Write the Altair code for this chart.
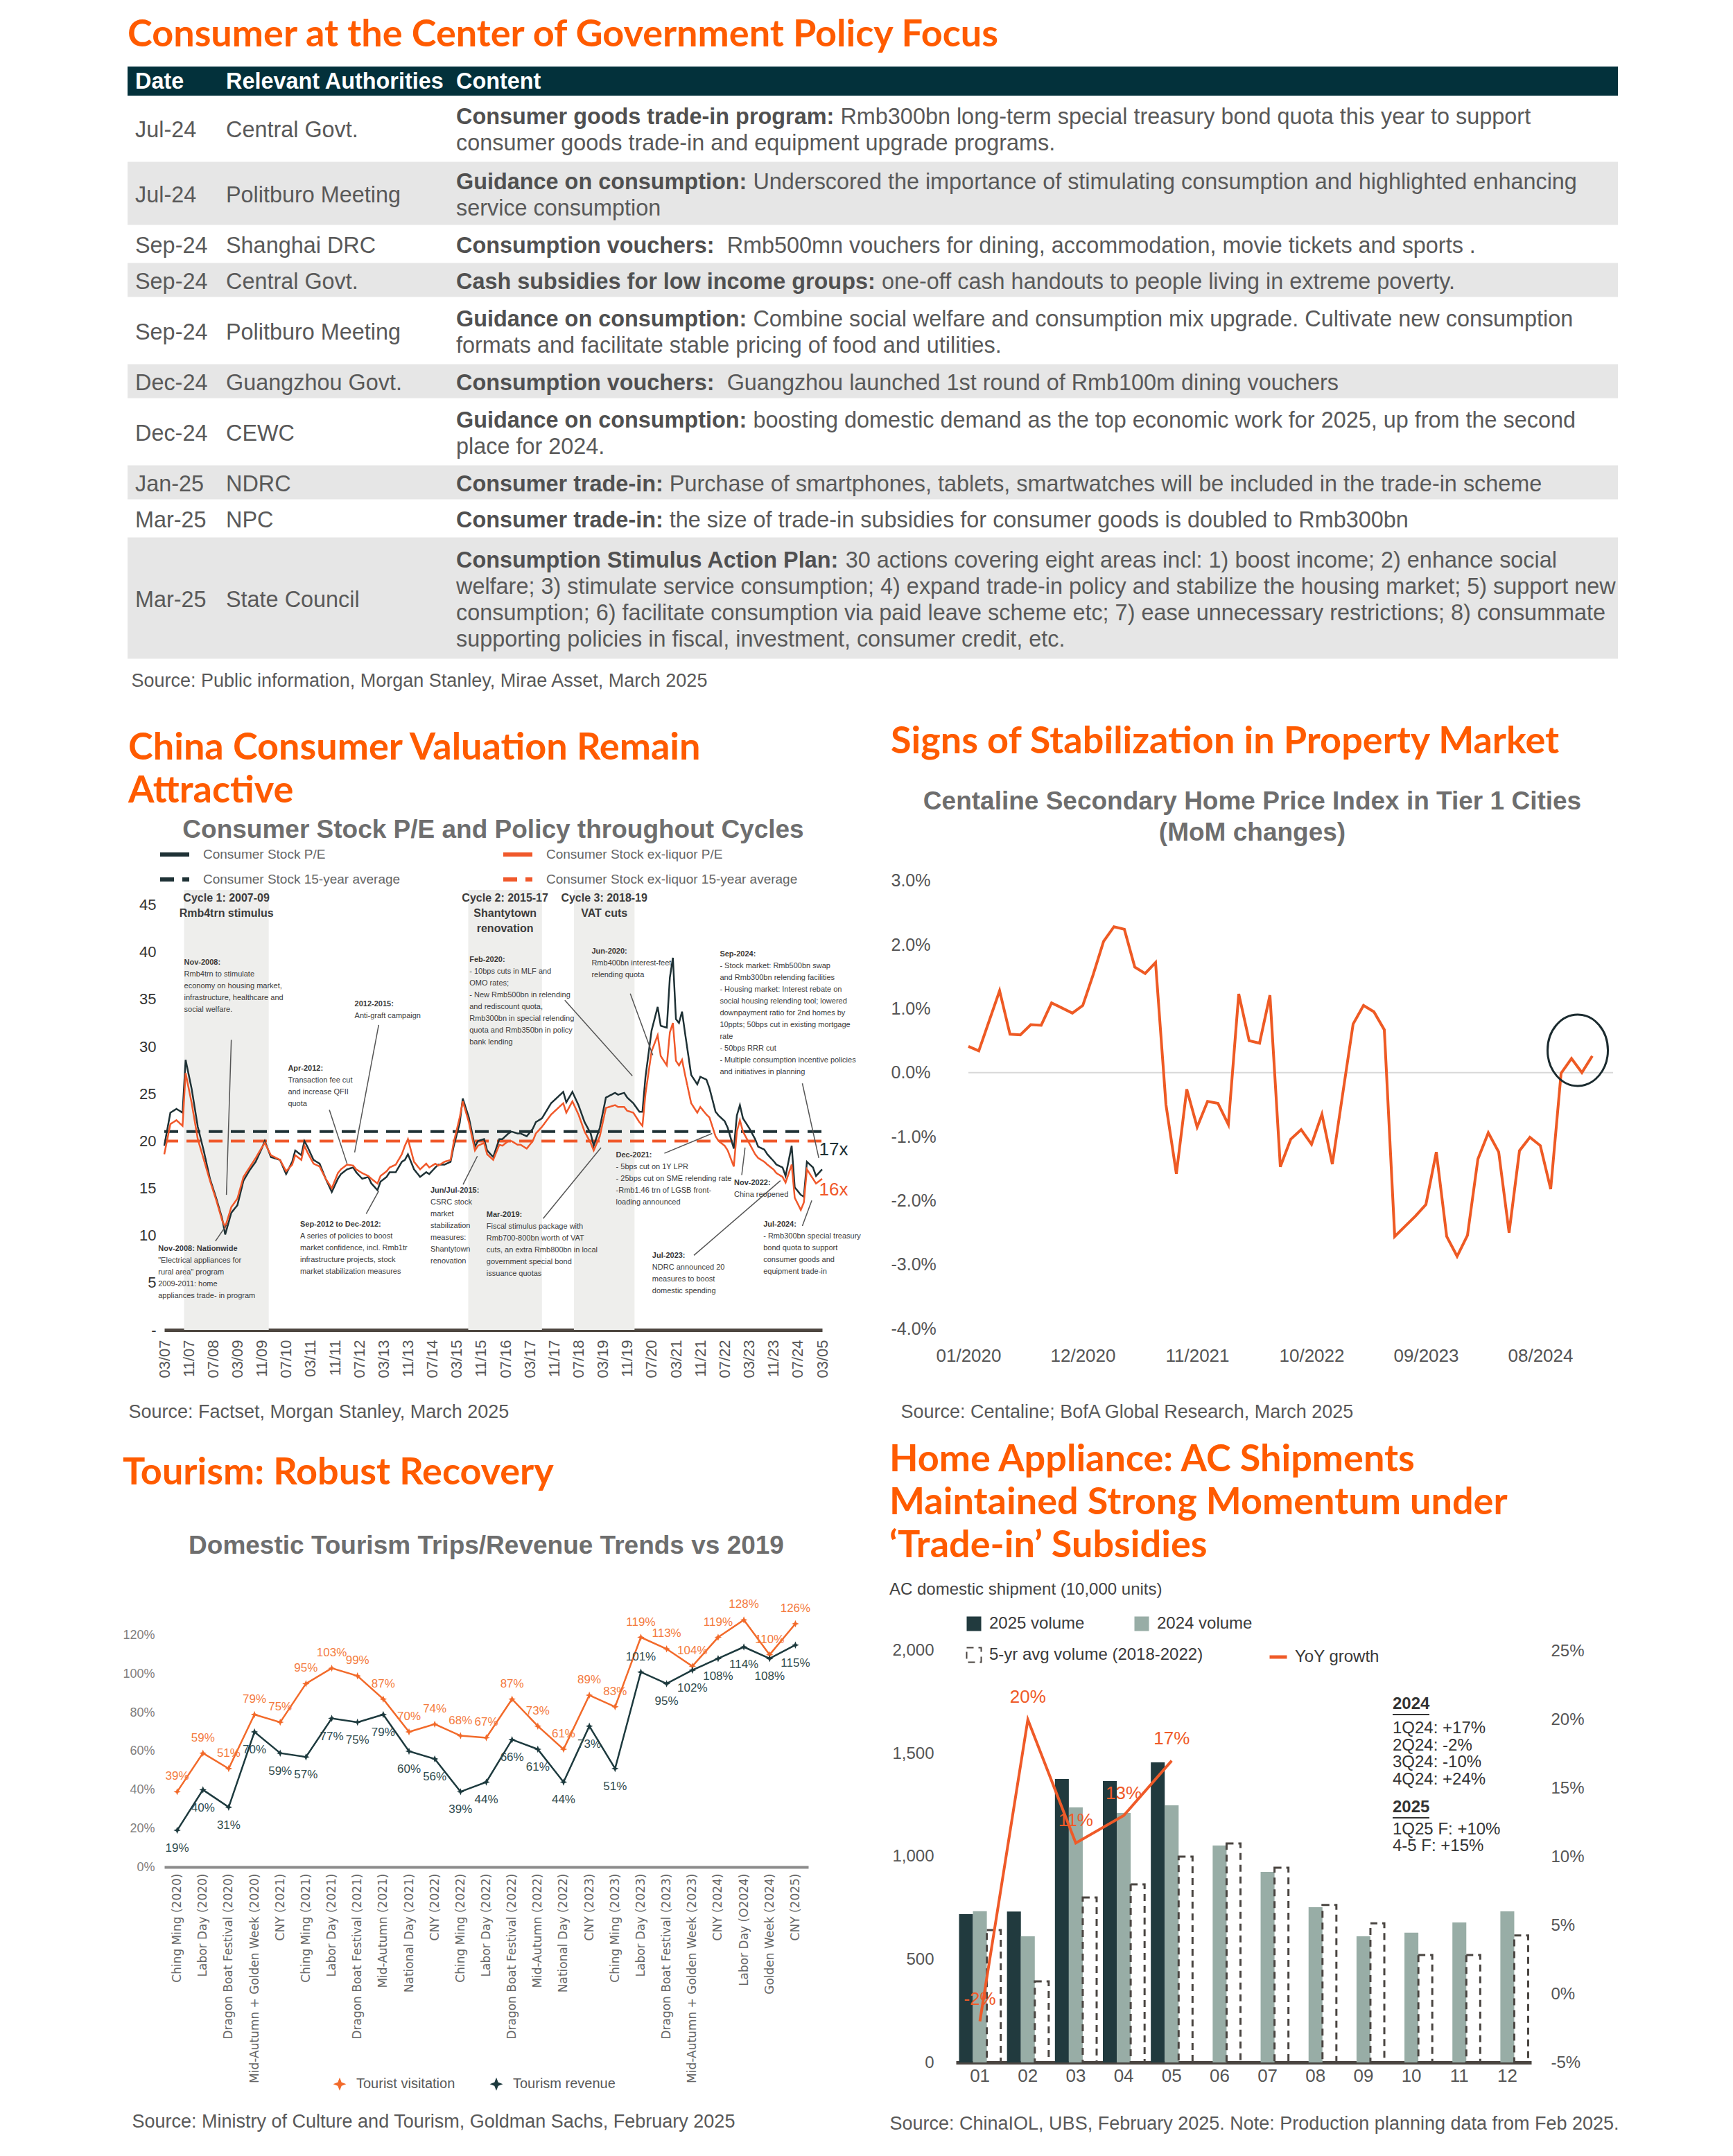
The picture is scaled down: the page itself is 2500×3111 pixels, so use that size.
import altair as alt
import pandas as pd

# ---------------------------------------------------------------- colours / fonts
ORANGE = "#FF5B00"
TEAL = "#03313B"
ROWGREY = "#E6E6E6"
TXT = "#595959"
SUB = "#6E6E6E"
DARK = "#1E3135"
ORG = "#F0582A"
SANS = "Liberation Sans"
HEAD = "Lato"
HEAD_FS = 54
SUB_FS = 37

# ================================================================ DATA
# ---- policy table
tbl_dates = ["Jul-24", "Jul-24", "Sep-24", "Sep-24", "Sep-24", "Dec-24", "Dec-24", "Jan-25", "Mar-25", "Mar-25"]
tbl_auth = ["Central Govt.", "Politburo Meeting", "Shanghai DRC", "Central Govt.", "Politburo Meeting",
            "Guangzhou Govt.", "CEWC", "NDRC", "NPC", "State Council"]
tbl_bold = ["Consumer goods trade-in program:", "Guidance on consumption:", "Consumption vouchers:",
            "Cash subsidies for low income groups:", "Guidance on consumption:", "Consumption vouchers:",
            "Guidance on consumption:", "Consumer trade-in:", "Consumer trade-in:", "Consumption Stimulus Action Plan:"]
tbl_text = [
    [" Rmb300bn long-term special treasury bond quota this year to support",
     "consumer goods trade-in and equipment upgrade programs."],
    [" Underscored the importance of stimulating consumption and highlighted enhancing",
     "service consumption"],
    ["  Rmb500mn vouchers for dining, accommodation, movie tickets and sports ."],
    [" one-off cash handouts to people living in extreme poverty."],
    [" Combine social welfare and consumption mix upgrade. Cultivate new consumption",
     "formats and facilitate stable pricing of food and utilities."],
    ["  Guangzhou launched 1st round of Rmb100m dining vouchers"],
    [" boosting domestic demand as the top economic work for 2025, up from the second",
     "place for 2024."],
    [" Purchase of smartphones, tablets, smartwatches will be included in the trade-in scheme"],
    [" the size of trade-in subsidies for consumer goods is doubled to Rmb300bn"],
    [" 30 actions covering eight areas incl: 1) boost income; 2) enhance social",
     "welfare; 3) stimulate service consumption; 4) expand trade-in policy and stabilize the housing market; 5) support new",
     "consumption; 6) facilitate consumption via paid leave scheme etc; 7) ease unnecessary restrictions; 8) consummate",
     "supporting policies in fiscal, investment, consumer credit, etc."],
]
tbl_header = ["Date", "Relevant Authorities", "Content"]
tbl_source = "Source: Public information, Morgan Stanley, Mirae Asset, March 2025"

# ---- consumer stock P/E (month index from Mar-2007)
pe_month = [0, 2, 4, 6, 7, 9, 11, 13, 15, 17, 19, 20, 22, 24, 26, 28, 30, 32, 33, 35,
            38, 40, 42, 43, 45, 46, 47, 49, 51, 53, 55, 57, 58, 60, 62, 63, 65, 67, 68, 70,
            71, 73, 74, 76, 78, 79, 80, 82, 84, 86, 87, 89, 90, 92, 94, 95, 97, 98, 100, 102,
            103, 105, 106, 108, 110, 111, 113, 114, 116, 117, 119, 121, 122, 124, 127, 129, 131, 132, 134, 136,
            138, 140, 141, 143, 145, 148, 149, 151, 152, 154, 156, 157, 158, 160, 162, 163, 165, 166, 167, 168,
            169, 170, 171, 173, 175, 176, 178, 179, 181, 182, 184, 185, 187, 188, 189, 190, 192, 194, 195, 197,
            198, 200, 201, 203, 204, 206, 207, 209, 210, 211, 213, 214, 216]
pe_all = [19.5, 23.0, 23.4, 23.0, 28.6, 25.5, 21.5, 18.9, 16.0, 14.0, 11.8, 10.1, 12.4, 13.2, 15.8, 16.9, 17.8, 19.2, 20.0, 18.3,
          18.0, 16.5, 17.8, 19.0, 18.5, 20.0, 19.4, 18.0, 17.6, 16.0, 14.6, 16.0, 16.5, 17.0, 17.2, 16.7, 16.0, 16.2, 15.5, 14.8,
          15.7, 16.2, 16.7, 16.7, 17.8, 18.0, 18.6, 17.0, 16.2, 16.7, 16.5, 17.2, 17.5, 17.5, 17.8, 19.4, 21.9, 24.5, 22.5, 19.4,
          20.0, 20.2, 19.0, 18.3, 20.2, 20.2, 20.8, 21.0, 20.8, 20.8, 20.5, 21.3, 22.0, 22.4, 24.0, 24.6, 25.2, 24.1, 25.2, 23.8,
          22.0, 20.8, 19.5, 21.4, 24.6, 25.1, 24.9, 25.1, 24.6, 24.0, 23.1, 23.1, 26.8, 31.7, 34.2, 32.2, 32.0, 37.3, 39.4, 32.9,
          32.5, 33.7, 31.4, 27.0, 26.0, 26.8, 26.5, 25.6, 23.1, 22.7, 22.1, 21.4, 19.2, 22.7, 23.8, 22.4, 21.4, 20.2, 19.4, 19.1,
          18.6, 17.9, 17.5, 17.2, 16.3, 19.5, 15.1, 14.3, 14.1, 17.8, 17.2, 16.3, 17.0]
pe_exl = [18.6, 21.8, 22.2, 21.6, 27.2, 24.0, 20.2, 18.0, 15.8, 13.8, 11.6, 10.9, 13.0, 13.9, 16.2, 17.2, 18.2, 19.3, 19.8, 18.5,
          18.0, 16.8, 17.5, 18.5, 18.0, 19.5, 18.8, 17.6, 17.3, 16.0, 15.0, 16.6, 17.0, 17.5, 17.4, 17.0, 16.6, 16.3, 16.0, 15.5,
          16.3, 16.8, 17.2, 17.5, 18.6, 19.5, 20.2, 17.8, 17.0, 17.6, 17.2, 17.6, 17.4, 17.8, 18.0, 19.8, 22.5, 24.2, 22.0, 19.0,
          19.5, 19.8, 18.6, 18.0, 19.6, 19.5, 20.0, 20.0, 19.6, 19.6, 19.2, 20.0, 20.8, 21.5, 22.8, 23.4, 24.0, 23.0, 24.2, 22.8,
          21.0, 19.8, 19.0, 20.5, 23.5, 23.8, 23.6, 23.6, 23.2, 23.0, 22.0, 21.6, 25.0, 29.5, 31.2, 29.0, 28.0, 31.5, 32.5, 28.5,
          28.0, 28.6, 27.0, 24.0, 23.0, 23.6, 22.8, 22.5, 20.5, 20.0, 19.5, 19.0, 17.3, 21.0, 22.2, 21.0, 19.8, 18.6, 18.2, 17.8,
          17.5, 17.0, 16.6, 16.2, 15.6, 17.5, 14.0, 12.7, 13.5, 17.0, 16.0, 15.5, 16.0]
pe_series = ["Consumer Stock P/E", "Consumer Stock 15-year average",
             "Consumer Stock ex-liquor P/E", "Consumer Stock ex-liquor 15-year average"]
pe_avg = [21.0, 20.0]
pe_ticks = ["03/07", "11/07", "07/08", "03/09", "11/09", "07/10", "03/11", "11/11", "07/12", "03/13", "11/13", "07/14",
            "03/15", "11/15", "07/16", "03/17", "11/17", "07/18", "03/19", "11/19", "07/20", "03/21", "11/21", "07/22",
            "03/23", "11/23", "07/24", "03/05"]
cycle_start = [6.5, 99.8, 134.5]
cycle_end = [34.3, 124.0, 154.4]
cycle_text = ["Cycle 1: 2007-09\nRmb4trn stimulus", "Cycle 2: 2015-17\nShantytown\nrenovation", "Cycle 3: 2018-19\nVAT cuts"]
NB = "\u00a0\u00a0"
pe_notes = [
    # header, body, anchor (month, value), arrow from, arrow to
    ("Nov-2008:", "Rmb4trn to stimulate\neconomy on housing market,\ninfrastructure, healthcare and\nsocial welfare.",
     6.5, 39.3, (22.0, 30.7), (20.4, 14.3)),
    ("2012-2015:", "Anti-graft campaign", 62.5, 34.9, (70.4, 32.3), (62.5, 18.8)),
    ("Apr-2012:", "Transaction fee cut\nand increase QFII\nquota", 40.6, 28.1, (54.2, 23.3), (60.0, 17.6)),
    ("Feb-2020:", "- 10bps cuts in MLF and\n" + NB + "OMO  rates;\n- New Rmb500bn in relending\n" + NB +
     "and rediscount quota,\n" + NB + "Rmb300bn in special relending\n" + NB + "quota and Rmb350bn in policy\n" + NB + "bank lending",
     100.2, 39.6, (131.5, 34.9), (153.7, 26.9)),
    ("Jun-2020:", "Rmb400bn interest-feet\nrelending quota", 140.3, 40.5, (153.0, 35.6), (160.4, 29.1)),
    ("Sep-2024:", "- Stock market: Rmb500bn swap\n" + NB + "and Rmb300bn relending facilities\n- Housing market: Interest rebate on\n" + NB +
     "social housing relending tool; lowered\n" + NB + "downpayment ratio for 2nd homes by\n" + NB +
     "10ppts; 50bps cut in existing mortgage\n" + NB + "rate\n- 50bps RRR cut\n- Multiple consumption incentive policies\n" + NB +
     "and initiatives in planning", 182.4, 40.2, (209.5, 26.1), (214.9, 18.2)),
    ("Nov-2008: Nationwide", "\"Electrical appliances for\nrural area\" program\n2009-2011: home\nappliances trade- in program",
     -2.0, 9.0, (16.8, 9.4), (20.4, 11.1)),
    ("Sep-2012 to Dec-2012:", "A series of policies to boost\nmarket confidence, incl. Rmb1tr\ninfrastructure projects, stock\nmarket stabilization measures",
     44.6, 11.6, (66.3, 12.3), (70.4, 14.7)),
    ("Jun/Jul-2015:", "CSRC stock\nmarket\nstabilization\nmeasures:\nShantytown\nrenovation", 87.4, 15.2, (98.1, 15.4), (102.8, 18.4)),
    ("Mar-2019:", "Fiscal stimulus package with\nRmb700-800bn worth of VAT\ncuts, an extra Rmb800bn in local\ngovernment special bond\nissuance quotas",
     105.8, 12.6, (124.4, 11.8), (143.4, 19.3)),
    ("Dec-2021:", "- 5bps cut on 1Y LPR\n- 25bps cut on SME relending rate\n-Rmb1.46 trn of LGSB front-\n" + NB + "loading announced",
     148.3, 18.9, (164.2, 18.7), (179.9, 20.8)),
    ("Nov-2022:", "China reopened", 187.1, 16.0, (189.6, 16.4), (190.7, 19.3)),
    ("Jul-2023:", "NDRC announced 20\nmeasures to boost\ndomestic spending", 160.2, 8.3, (173.9, 7.9), (202.3, 15.8)),
    ("Jul-2024:", "- Rmb300bn special treasury\n" + NB + "bond quota to support\n" + NB + "consumer goods and\n" + NB + "equipment trade-in",
     196.7, 11.6, (209.5, 11.0), (212.6, 13.7)),
]
pe_end_labels = ["17x", "16x"]
pe_source = "Source: Factset, Morgan Stanley, March 2025"

# ---- Centaline MoM (month index from Jan-2020), %
prop_month = [0, 1, 3, 4, 5, 6, 7, 8, 10, 11, 12, 13, 14, 15, 16, 17, 18, 19, 20, 21,
              22, 23, 24, 25, 26, 27, 28, 29, 30, 31, 32, 33, 34, 35, 36, 37, 38, 39, 40, 41,
              42, 43, 44, 45, 46, 47, 48, 49, 50, 51, 52, 53, 54, 55, 56, 57, 58, 59, 60]
prop_val = [0.41, 0.34, 1.28, 0.60, 0.59, 0.75, 0.74, 1.09, 0.93, 1.05, 1.53, 2.05, 2.28, 2.24, 1.65, 1.55, 1.72, -0.50, -1.58, -0.26,
            -0.85, -0.45, -0.48, -0.81, 1.23, 0.50, 0.46, 1.21, -1.47, -1.04, -0.89, -1.12, -0.65, -1.43, -0.33, 0.76, 1.05, 0.95, 0.67, -2.56,
            -2.40, -2.24, -2.06, -1.24, -2.56, -2.87, -2.54, -1.35, -0.94, -1.24, -2.50, -1.22, -1.01, -1.14, -1.82, -0.01, 0.22, 0.00, 0.26]
prop_ticks = ["01/2020", "12/2020", "11/2021", "10/2022", "09/2023", "08/2024"]
prop_source = "Source: Centaline; BofA Global Research, March 2025"

# ---- tourism vs 2019 (%)
tour_cat = ["Ching Ming (2020)", "Labor Day (2020)", "Dragon Boat Festival (2020)", "Mid-Autumn + Golden Week (2020)",
            "CNY (2021)", "Ching Ming (2021)", "Labor Day (2021)", "Dragon Boat Festival (2021)", "Mid-Autumn (2021)",
            "National Day (2021)", "CNY (2022)", "Ching Ming (2022)", "Labor Day (2022)", "Dragon Boat Festival (2022)",
            "Mid-Autumn (2022)", "National Day (2022)", "CNY (2023)", "Ching Ming (2023)", "Labor Day (2023)",
            "Dragon Boat Festival (2023)", "Mid-Autumn + Golden Week (2023)", "CNY (2024)", "Labor Day (O2024)",
            "Golden Week (2024)", "CNY (2025)"]
tour_visit = [39, 59, 51, 79, 75, 95, 103, 99, 87, 70, 74, 68, 67, 87, 73, 61, 89, 83, 119, 113, 104, 119, 128, 110, 126]
tour_rev = [19, 40, 31, 70, 59, 57, 77, 75, 79, 60, 56, 39, 44, 66, 61, 44, 73, 51, 101, 95, 102, 108, 114, 108, 115]
tour_series = ["Tourist visitation", "Tourism revenue"]
tour_rev_label_above = [18]
tour_source = "Source: Ministry of Culture and Tourism, Goldman Sachs, February 2025"

# ---- AC shipments (10,000 units) and YoY (%)
ac_months = ["01", "02", "03", "04", "05", "06", "07", "08", "09", "10", "11", "12"]
ac_2025 = [720, 733, 1377, 1367, 1458]
ac_2024 = [735, 613, 1239, 1212, 1249, 1054, 926, 754, 613, 630, 680, 734]
ac_avg = [643, 394, 801, 865, 1000, 1064, 946, 765, 676, 522, 522, 617]
ac_yoy = [-2, 20, 11, 13, 17]
ac_series = ["2025 volume", "2024 volume", "5-yr avg volume (2018-2022)"]
ac_yoy_name = "YoY growth"
ac_note_2024 = "1Q24: +17%\n2Q24: -2%\n3Q24: -10%\n4Q24: +24%"
ac_note_2025 = "1Q25 F: +10%\n4-5 F: +15%"
ac_source = "Source: ChinaIOL, UBS, February 2025. Note: Production planning data from Feb 2025."

# ================================================================ helpers
_R = dict(zip(" !\"#$%&'()*+,-./", [278, 278, 355, 556, 556, 889, 667, 191, 333, 333, 389, 584, 278, 333, 278, 278]))
_R.update({d: 556 for d in "0123456789"})
_R.update(dict(zip(":;<=>?@", [278, 278, 584, 584, 584, 556, 1015])))
_R.update(dict(zip("ABCDEFGHIJKLMNOPQRSTUVWXYZ", [667, 667, 722, 722, 667, 611, 778, 722, 278, 500, 667, 556, 833, 722, 778, 667, 778, 722, 667, 611, 722, 667, 944, 667, 667, 611])))
_R.update(dict(zip("abcdefghijklmnopqrstuvwxyz", [556, 556, 500, 556, 556, 278, 556, 556, 222, 222, 500, 222, 833, 556, 556, 556, 556, 333, 500, 278, 556, 500, 722, 500, 500, 500])))
_B = dict(zip(" !\"#$%&'()*+,-./", [278, 333, 474, 556, 556, 889, 722, 238, 333, 333, 389, 584, 278, 333, 278, 278]))
_B.update({d: 556 for d in "0123456789"})
_B.update(dict(zip(":;<=>?@", [333, 333, 584, 584, 584, 611, 975])))
_B.update(dict(zip("ABCDEFGHIJKLMNOPQRSTUVWXYZ", [722, 722, 722, 722, 667, 611, 778, 722, 278, 556, 722, 611, 833, 722, 778, 667, 778, 722, 667, 611, 722, 667, 944, 667, 667, 611])))
_B.update(dict(zip("abcdefghijklmnopqrstuvwxyz", [556, 611, 556, 611, 556, 333, 611, 611, 278, 278, 556, 278, 889, 611, 611, 611, 611, 389, 556, 333, 611, 556, 778, 556, 556, 500])))


def text_w(s, table, size):
    return sum(table.get(c, 556) for c in s) * size / 1000.0


def sec_title(text, offset=12):
    return alt.TitleParams(text=text, anchor="start", font=HEAD, fontSize=HEAD_FS, fontWeight="bold", color=ORANGE,
                           lineHeight=62, offset=offset, frame="bounds")


def src_axis(title, tx, ty, **kw):
    return alt.Axis(title=title, titleAnchor="start", titleAlign="left", titleX=tx, titleY=ty,
                    titleBaseline="middle", titleFontSize=27, titleFontWeight="normal", titleColor=TXT,
                    titleFont=SANS, grid=False, ticks=False, **kw)


INDEP = dict(color="independent", strokeDash="independent", fill="independent", stroke="independent")

# ================================================================ 1. policy table
W_T = 2150
OFF_T = 53          # the table starts left of the shared column origin
HDR_H = 42
LINE_H = 38
FS_T = 32.4
COL_X = [11, 142, 474]
n_lines = [len(t) for t in tbl_text]
row_h = [42 * n + 10 for n in n_lines]
tops = []
acc = HDR_H
for h in row_h:
    tops.append(acc)
    acc += h
H_T = acc

rect_rows = [{"x0": 0, "x1": W_T, "y0": 0, "y1": HDR_H, "kind": "hdr"}]
for i, (t, h) in enumerate(zip(tops, row_h)):
    if i % 2 == 1:
        rect_rows.append({"x0": 0, "x1": W_T, "y0": t + 1.5, "y1": t + h - 1.5, "kind": "grey"})
rect_df = pd.DataFrame(rect_rows)

hdr_df = pd.DataFrame({"x": COL_X, "y": [HDR_H / 2 + 1] * 3, "t": tbl_header})
cell_rows, bold_rows, rest_rows = [], [], []
for i in range(len(tbl_dates)):
    t, h, n = tops[i], row_h[i], n_lines[i]
    cell_rows.append({"x": COL_X[0], "y": t + h / 2 + 3, "t": tbl_dates[i]})
    cell_rows.append({"x": COL_X[1], "y": t + h / 2 + 3, "t": tbl_auth[i]})
    for k, line in enumerate(tbl_text[i]):
        ly = t + (h - n * LINE_H) / 2 + LINE_H / 2 + k * LINE_H + 3
        if k == 0:
            bold_rows.append({"x": COL_X[2], "y": ly, "t": tbl_bold[i]})
            lead = len(line) - len(line.lstrip(" "))
            x0 = COL_X[2] + text_w(tbl_bold[i], _B, FS_T) + text_w(" " * lead, _R, FS_T)
            rest_rows.append({"x": x0, "y": ly, "t": line.lstrip(" ")})
        else:
            rest_rows.append({"x": COL_X[2], "y": ly, "t": line})
cell_df = pd.DataFrame(cell_rows)
bold_df = pd.DataFrame(bold_rows)
rest_df = pd.DataFrame(rest_rows)

xs_t = alt.Scale(domain=[OFF_T, W_T], nice=False, zero=False)
ys_t = alt.Scale(domain=[0, H_T], reverse=True, nice=False, zero=False)
t_xaxis = src_axis(tbl_source, 5 - OFF_T, 30, labels=False, domain=False)

t_rect = alt.Chart(rect_df).mark_rect().encode(
    x=alt.X("x0:Q", scale=xs_t, axis=t_xaxis), x2="x1:Q",
    y=alt.Y("y0:Q", scale=ys_t, axis=None), y2="y1:Q",
    color=alt.Color("kind:N", scale=alt.Scale(domain=["hdr", "grey"], range=[TEAL, ROWGREY]), legend=None))


def t_text(df, **mk):
    return alt.Chart(df).mark_text(align="left", baseline="middle", font=SANS, fontSize=FS_T, **mk).encode(
        x=alt.X("x:Q", scale=xs_t, axis=t_xaxis), y=alt.Y("y:Q", scale=ys_t, axis=None), text="t:N")


table_chart = alt.layer(
    t_rect,
    t_text(hdr_df, color="white", fontWeight="bold"),
    t_text(cell_df, color=TXT),
    t_text(bold_df, color="#505050", fontWeight="bold"),
    t_text(rest_df, color=TXT),
).properties(width=W_T - OFF_T, height=H_T,
             title=alt.TitleParams("Consumer at the Center of Government Policy Focus", anchor="start", font=HEAD,
                                   fontSize=HEAD_FS, fontWeight="bold", color=ORANGE, offset=18, frame="bounds"))

# ================================================================ 2a. P/E chart
W_PE, H_PE = 949, 676
xs_pe = alt.Scale(domain=[0, 216], nice=False, zero=False)
ys_pe = alt.Scale(domain=[0, 49.6], nice=False)
col_pe = alt.Scale(domain=pe_series, range=[DARK, DARK, ORG, ORG])
dash_pe = alt.Scale(domain=pe_series, range=[[1, 0], [20, 12], [1, 0], [20, 12]])
leg_pe = alt.Legend(title=None, orient="none", legendX=-9, legendY=-34, columns=2, columnPadding=136, rowPadding=-16,
                    symbolType="stroke", symbolSize=1764, symbolStrokeWidth=6, labelFontSize=19, labelColor="#666666",
                    labelOffset=17, labelLimit=700, padding=0)

pe_df = pd.DataFrame({"m": pe_month * 2, "v": pe_all + pe_exl,
                      "series": [pe_series[0]] * len(pe_month) + [pe_series[2]] * len(pe_month)})
avg_df = pd.DataFrame({"series": [pe_series[1], pe_series[3]], "v": pe_avg, "x0": [0, 0], "x1": [216, 216]})
band_df = pd.DataFrame({"s": cycle_start, "e": cycle_end, "t": cycle_text,
                        "c": [(a + b) / 2 for a, b in zip(cycle_start, cycle_end)],
                        "lo": [0.0] * 3, "hi": [46.6] * 3})
note_df = pd.DataFrame({"head": [n[0] for n in pe_notes], "body": [n[1] for n in pe_notes],
                        "m": [n[2] for n in pe_notes], "v": [n[3] for n in pe_notes]})
arrow_df = pd.DataFrame({"m0": [n[4][0] for n in pe_notes], "v0": [n[4][1] for n in pe_notes],
                         "m1": [n[5][0] for n in pe_notes], "v1": [n[5][1] for n in pe_notes]})
end_df = pd.DataFrame({"m": [215, 215], "v": [19.1, 14.8], "t": pe_end_labels, "series": [pe_series[0], pe_series[2]]})

pe_x_axis = src_axis(pe_source, -52, 118, values=list(range(0, 217, 8)),
                     labelExpr="[" + ",".join("'%s'" % t for t in pe_ticks) + "][datum.value/8]",
                     labelAngle=270, labelFontSize=22, labelColor="#555555", labelPadding=14, labelFlush=False,
                     domainColor="#4D4640", domainWidth=5)
pe_y_axis = alt.Axis(title=None, values=list(range(0, 46, 5)), labelExpr="datum.value == 0 ? '-' : datum.label",
                     labelFontSize=22, labelColor="#333333", labelPadding=12, labelFlush=False,
                     grid=False, ticks=False, domain=False)


def px(f):
    return alt.X(f, scale=xs_pe, axis=pe_x_axis)


def py(f):
    return alt.Y(f, scale=ys_pe, axis=pe_y_axis)


pe_bands = alt.Chart(band_df).mark_rect(color="#EEEEEC").encode(
    x=px("s:Q"), x2="e:Q", y=py("lo:Q"), y2="hi:Q")
pe_band_txt = alt.Chart(band_df).mark_text(baseline="top", fontSize=16, fontWeight="bold", color="#3C3C3C",
                                           lineBreak="\n", lineHeight=22, dy=4).encode(
    x=px("c:Q"), y=py("hi:Q"), text="t:N")
pe_avg_rule = alt.Chart(avg_df).mark_rule(strokeWidth=4).encode(
    x=px("x0:Q"), x2="x1:Q", y=py("v:Q"),
    color=alt.Color("series:N", scale=col_pe, legend=leg_pe),
    strokeDash=alt.StrokeDash("series:N", scale=dash_pe, legend=leg_pe))
pe_lines = alt.Chart(pe_df).mark_line(strokeWidth=2.5).encode(
    x=px("m:Q"), y=py("v:Q"),
    color=alt.Color("series:N", scale=col_pe, legend=leg_pe),
    strokeDash=alt.StrokeDash("series:N", scale=dash_pe, legend=leg_pe))
pe_arrows = alt.Chart(arrow_df).mark_rule(color="#555555", strokeWidth=1.5).encode(
    x=px("m0:Q"), y=py("v0:Q"), x2="m1:Q", y2="v1:Q")
pe_note_head = alt.Chart(note_df).mark_text(align="left", baseline="top", fontSize=11, fontWeight="bold",
                                            color="#3A3A3A").encode(x=px("m:Q"), y=py("v:Q"), text="head:N")
pe_note_body = alt.Chart(note_df).mark_text(align="left", baseline="top", fontSize=11, color="#3A3A3A",
                                            lineBreak="\n", lineHeight=17, dy=17).encode(
    x=px("m:Q"), y=py("v:Q"), text="body:N")
pe_end = alt.Chart(end_df).mark_text(align="left", baseline="middle", fontSize=26).encode(
    x=px("m:Q"), y=py("v:Q"), text="t:N",
    color=alt.Color("series:N", scale=col_pe, legend=leg_pe))

pe_chart = alt.layer(pe_bands, pe_band_txt, pe_avg_rule, pe_lines, pe_arrows, pe_note_head, pe_note_body,
                     pe_end).properties(
    width=W_PE, height=H_PE,
    title=alt.TitleParams("Consumer Stock P/E and Policy throughout Cycles", anchor="middle", frame="group",
                          fontSize=SUB_FS, fontWeight="bold", color=SUB, font=SANS, offset=26))

# ================================================================ 2b. property chart
W_PR, H_PR = 930, 688
xs_pr = alt.Scale(domain=[0, 62], nice=False, zero=False)
ys_pr = alt.Scale(domain=[-4.15, 3.3], nice=False, zero=False)
prop_df = pd.DataFrame({"m": prop_month, "v": prop_val})
pr_x_axis = src_axis(prop_source, -98, 106, values=[0, 11, 22, 33, 44, 55],
                     labelExpr="[" + ",".join("'%s'" % t for t in prop_ticks) + "][datum.value/11]",
                     labelFontSize=26, labelColor="#555555", labelPadding=12, labelFlush=False, domain=False)
pr_y_axis = alt.Axis(title=None, values=[-4, -3, -2, -1, 0, 1, 2, 3],
                     labelExpr="(datum.value < 0 ? '-' : '') + format(abs(datum.value), '.1f') + '%'",
                     labelAlign="left", labelPadding=112, labelFontSize=25, labelColor="#555555", labelFlush=False,
                     grid=False, ticks=False, domain=False)
ELLIPSE = "M-0.845,0A0.845,1 0 1,0 0.845,0A0.845,1 0 1,0 -0.845,0Z"
zero_df = pd.DataFrame({"z": [0.0]})
pr_zero = alt.Chart(zero_df).mark_rule(color="#D9D9D9", strokeWidth=2).encode(
    y=alt.Y("z:Q", scale=ys_pr, axis=pr_y_axis))
pr_line = alt.Chart(prop_df).mark_line(color="#EE5A24", strokeWidth=4).encode(
    x=alt.X("m:Q", scale=xs_pr, axis=pr_x_axis), y=alt.Y("v:Q", scale=ys_pr, axis=pr_y_axis))
pr_circle = alt.Chart(pd.DataFrame({"m": [58.6], "v": [0.35]})).mark_point(
    shape=ELLIPSE, size=10609, filled=False, color="#1B2B2F", strokeWidth=3, opacity=1).encode(
    x=alt.X("m:Q", scale=xs_pr, axis=pr_x_axis), y=alt.Y("v:Q", scale=ys_pr, axis=pr_y_axis))
prop_chart = alt.layer(pr_zero, pr_line, pr_circle).properties(
    width=W_PR, height=H_PR,
    title=alt.TitleParams(["Centaline Secondary Home Price Index in Tier 1 Cities", "(MoM changes)"],
                          anchor="middle", frame="bounds", fontSize=SUB_FS, fontWeight="bold", color=SUB, font=SANS,
                          lineHeight=45, offset=22))

# ================================================================ 3a. tourism chart
W_TO, H_TO = 929, 376
STAR = "M0,-1L0.28,-0.28L1,0L0.28,0.28L0,1L-0.28,0.28L-1,0L-0.28,-0.28Z"
T_OR, T_DK = "#F26A2A", "#1D3A3E"
xs_to = alt.Scale(type="point", padding=0.5, domain=tour_cat)
ys_to = alt.Scale(domain=[0, 135], nice=False)
tour_df = pd.DataFrame({"cat": tour_cat * 2, "v": tour_visit + tour_rev,
                        "series": [tour_series[0]] * len(tour_cat) + [tour_series[1]] * len(tour_cat)})
tour_df["lab"] = tour_df["v"].astype(str) + "%"
lab_vis = tour_df[tour_df.series == tour_series[0]]
rev_only = tour_df[tour_df.series == tour_series[1]].reset_index(drop=True)
lab_rev_above = rev_only[rev_only.index.isin(tour_rev_label_above)]
lab_rev_below = rev_only[~rev_only.index.isin(tour_rev_label_above)]
col_to = alt.Scale(domain=tour_series, range=[T_OR, T_DK])
to_x_axis = src_axis(tour_source, -47, 367, labelAngle=270, labelFont="DejaVu Sans", labelFontSize=17,
                     labelColor="#666666", labelPadding=9, labelLimit=500, domainColor="#8C8C8C", domainWidth=4)
to_y_axis = alt.Axis(title=None, values=[0, 20, 40, 60, 80, 100, 120], labelExpr="datum.value + '%'",
                     labelFontSize=18, labelColor="#808080", labelPadding=14, labelFlush=False,
                     grid=False, ticks=False, domain=False)
leg_to = alt.Legend(title=None, orient="none", legendX=243, legendY=679, direction="horizontal",
                    symbolType=STAR, symbolSize=220, labelFontSize=20, labelColor="#595959", labelOffset=14,
                    columnPadding=48, padding=0)


def tx():
    return alt.X("cat:N", scale=xs_to, sort=tour_cat, axis=to_x_axis)


def ty():
    return alt.Y("v:Q", scale=ys_to, axis=to_y_axis)


to_lines = alt.Chart(tour_df).mark_line(strokeWidth=2.5).encode(
    x=tx(), y=ty(), color=alt.Color("series:N", scale=col_to, legend=leg_to))
to_pts = alt.Chart(tour_df).mark_point(shape=STAR, filled=True, size=110, opacity=1).encode(
    x=tx(), y=ty(), color=alt.Color("series:N", scale=col_to, legend=leg_to))


def to_lab(df, color, dy):
    return alt.Chart(df).mark_text(fontSize=17, color=color, dy=dy).encode(x=tx(), y=ty(), text="lab:N")


tour_chart = alt.layer(to_lines, to_pts, to_lab(lab_vis, "#F47B3E", -22), to_lab(lab_rev_below, "#2F4B4E", 26),
                       to_lab(lab_rev_above, "#2F4B4E", -22)).properties(
    width=W_TO, height=H_TO,
    title=alt.TitleParams("Domestic Tourism Trips/Revenue Trends vs 2019", anchor="middle", frame="group",
                          fontSize=SUB_FS, fontWeight="bold", color=SUB, font=SANS, offset=56))

# ================================================================ 3b. AC chart
W_AC, H_AC = 830, 658
AC_DK, AC_GR, AC_AX, AC_OR = "#213A3E", "#98ADA6", "#4A4541", "#EF5A28"
xs_ac = alt.Scale(domain=ac_months, paddingInner=0.13, paddingOuter=0.065)
xo_ac = alt.Scale(domain=ac_series, paddingInner=0, paddingOuter=0)
ys_ac = alt.Scale(domain=[0, 2215], nice=False)
yr_ac = alt.Scale(domain=[-5, 28.25], nice=False)
bars_df = pd.DataFrame({"month": ac_months[:len(ac_2025)] + ac_months,
                        "series": [ac_series[0]] * len(ac_2025) + [ac_series[1]] * len(ac_2024),
                        "v": ac_2025 + ac_2024})
avgbar_df = pd.DataFrame({"month": ac_months, "series": [ac_series[2]] * len(ac_avg), "v": ac_avg})
yoy_df = pd.DataFrame({"month": ac_months[:len(ac_yoy)], "yoy": ac_yoy, "metric": [ac_yoy_name] * len(ac_yoy),
                       "lab": ["%d%%" % v for v in ac_yoy]})
ac_x_axis = src_axis(ac_source, -96, 88, labelFontSize=26, labelColor="#555555", labelPadding=6, labelAngle=0,
                     domainColor=AC_AX, domainWidth=5)
ac_yl_axis = alt.Axis(title=None, values=[0, 500, 1000, 1500, 2000], format=",.0f", labelFontSize=24,
                      labelColor="#555555", labelPadding=32, labelFlush=False, grid=False, ticks=False, domain=False)
ac_yr_axis = alt.Axis(title=None, orient="right", values=[-5, 0, 5, 10, 15, 20, 25], labelExpr="datum.value + '%'",
                      labelAlign="left", labelFontSize=24, labelColor="#555555", labelPadding=28, labelFlush=False,
                      grid=False, ticks=False, domain=False)
LEGF = dict(title=None, orient="none", labelFontSize=24, labelColor="#3A3A3A", padding=0, labelLimit=600)


def ax():
    return alt.X("month:N", scale=xs_ac, sort=ac_months, axis=ac_x_axis)


ac_bars = alt.Chart(bars_df).mark_bar().encode(
    x=ax(), xOffset=alt.XOffset("series:N", scale=xo_ac),
    y=alt.Y("v:Q", scale=ys_ac, axis=ac_yl_axis),
    fill=alt.Fill("series:N", scale=alt.Scale(domain=ac_series[:2], range=[AC_DK, AC_GR]),
                  legend=alt.Legend(legendX=14, legendY=13, direction="horizontal", symbolType="square",
                                    symbolSize=441, labelOffset=10, columnPadding=70, **LEGF)))
ac_avg = alt.Chart(avgbar_df).mark_bar(fill="transparent", stroke=AC_AX, strokeWidth=3).encode(
    x=ax(), xOffset=alt.XOffset("series:N", scale=xo_ac),
    y=alt.Y("v:Q", scale=ys_ac, axis=ac_yl_axis),
    strokeDash=alt.StrokeDash("series:N", scale=alt.Scale(domain=[ac_series[2]], range=[[10, 7]]),
                              legend=alt.Legend(legendX=14, legendY=58, symbolType="square", symbolSize=441,
                                                symbolFillColor="transparent", symbolStrokeColor=AC_AX,
                                                symbolStrokeWidth=2, labelOffset=10, **LEGF)))


def ac_note(text, x, y, bold=False, lh=24.5):
    return alt.Chart(pd.DataFrame({"t": [text]})).mark_text(
        align="left", baseline="middle", fontSize=24, color="#333333", fontWeight="bold" if bold else "normal",
        lineBreak="\n", lineHeight=lh).encode(x=alt.value(x), y=alt.value(y), text="t:N")


def ac_underline(y):
    return alt.Chart(pd.DataFrame({"k": [0]})).mark_rule(color="#333333", strokeWidth=2).encode(
        x=alt.value(630), x2=alt.value(683), y=alt.value(y))


left = alt.layer(ac_bars, ac_avg, ac_note("2024", 630, 141, True), ac_note(ac_note_2024, 630, 176),
                 ac_note("2025", 630, 290, True), ac_note(ac_note_2025, 630, 322, lh=24),
                 ac_underline(156), ac_underline(305))
ac_line = alt.Chart(yoy_df).mark_line(strokeWidth=4).encode(
    x=ax(), y=alt.Y("yoy:Q", scale=yr_ac, axis=ac_yr_axis),
    stroke=alt.Stroke("metric:N", scale=alt.Scale(domain=[ac_yoy_name], range=[AC_OR]),
                      legend=alt.Legend(legendX=450, legendY=58, symbolType="stroke", symbolSize=625,
                                        symbolStrokeWidth=5, labelOffset=9, **LEGF)))
ac_lab = alt.Chart(yoy_df).mark_text(fontSize=26, color=AC_OR, dy=-32).encode(
    x=ax(), y=alt.Y("yoy:Q", scale=yr_ac, axis=ac_yr_axis), text="lab:N")
right = alt.layer(ac_line, ac_lab)
ac_chart = alt.layer(left, right).resolve_scale(y="independent").properties(
    width=W_AC, height=H_AC,
    title=alt.TitleParams("AC domestic shipment (10,000 units)", anchor="start", frame="bounds", fontSize=24,
                          fontWeight="normal", color="#444444", font=SANS, offset=12))

# ================================================================ layout
pe_block = alt.vconcat(pe_chart, title=sec_title(["China Consumer Valuation Remain", "Attractive"], offset=10))
prop_block = alt.vconcat(prop_chart, title=sec_title("Signs of Stabilization in Property Market", offset=40))
tour_block = alt.vconcat(tour_chart, title=sec_title("Tourism: Robust Recovery", offset=59))
ac_block = alt.vconcat(ac_chart, title=sec_title(["Home Appliance: AC Shipments", "Maintained Strong Momentum under",
                                                  "\u2018Trade-in\u2019 Subsidies"], offset=24))
row2 = alt.hconcat(pe_block, prop_block, spacing=43).resolve_scale(**INDEP)
row3 = alt.hconcat(tour_block, ac_block, spacing=113).resolve_scale(**INDEP)
lower = alt.vconcat(row2, row3, spacing=30).resolve_scale(**INDEP)

chart = alt.concat(table_chart, lower, columns=1, spacing=49).resolve_scale(**INDEP).properties(
    padding={"left": 168, "top": 16, "right": 20, "bottom": 10}, background="white"
).configure(font=SANS).configure_view(stroke=None)

chart.save("out.html", embed_options={"renderer": "svg", "actions": False})
